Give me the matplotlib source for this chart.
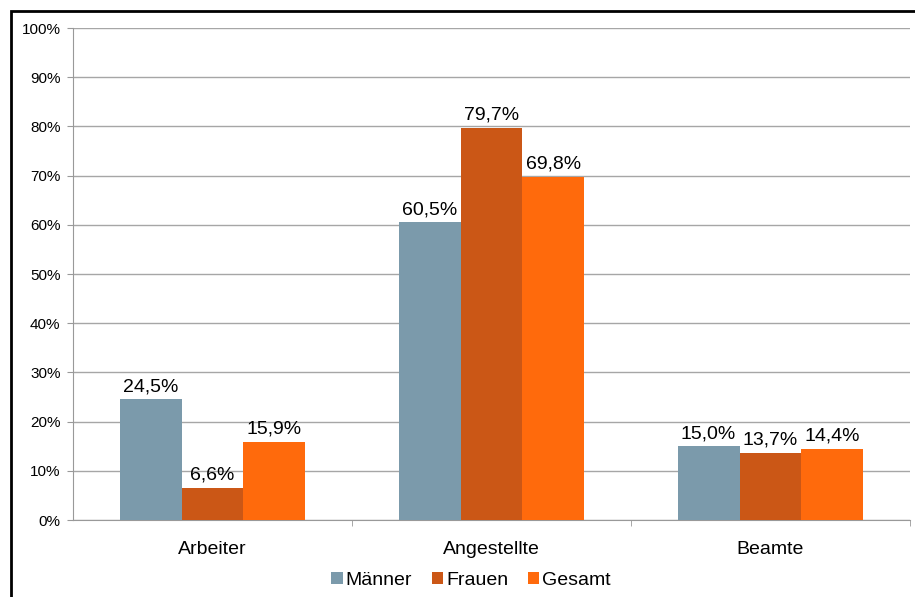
import numpy as np
import matplotlib
matplotlib.use("Agg")
import matplotlib.pyplot as plt
from matplotlib.patches import Rectangle
from matplotlib.ticker import FixedLocator

plt.rcParams["font.family"] = ["Liberation Sans", "DejaVu Sans"]

# ---- data ----
categories = ["Arbeiter", "Angestellte", "Beamte"]
series = ["Männer", "Frauen", "Gesamt"]
maenner = [24.5, 60.5, 15.0]
frauen = [6.6, 79.7, 13.7]
gesamt = [15.9, 69.8, 14.4]
colors = ["#7B9AAB", "#CB5716", "#FF6A0C"]

fig = plt.figure(figsize=(9.15, 5.97), dpi=100)
ax = fig.add_axes([73/915, 1-520/597, (910-73)/915, (520-28)/597])

x = np.arange(len(categories))
w = 0.222
for i, (vals, name, c) in enumerate(zip([maenner, frauen, gesamt], series, colors)):
    bars = ax.bar(x + (i-1)*w, vals, w, color=c, label=name, zorder=3)
    for b, v in zip(bars, vals):
        ax.annotate(f"{v:.1f}%".replace(".", ","), (b.get_x()+b.get_width()/2, v),
                    xytext=(0, 3), textcoords="offset points",
                    ha="center", va="bottom", fontsize=14, zorder=4)

ax.set_xlim(-0.5, 2.5)
ax.set_ylim(0, 100)
ax.set_yticks(np.arange(0, 101, 10))
ax.set_yticklabels([f"{t}%" for t in range(0, 101, 10)], fontsize=11)
ax.set_xticks(x)
ax.set_xticklabels(categories, fontsize=14)
ax.xaxis.set_minor_locator(FixedLocator([0.5, 1.5, 2.5]))
ax.tick_params(axis="x", which="major", length=0, pad=15)
ax.tick_params(axis="x", which="minor", length=4, color="#999999")
ax.tick_params(axis="y", length=4, color="#999999", pad=5)
ax.grid(axis="y", color="#a6a6a6", linewidth=1, zorder=0)
for s in ["top", "right"]:
    ax.spines[s].set_visible(False)
for s in ["left", "bottom"]:
    ax.spines[s].set_color("#999999")

ax.legend(loc="center", bbox_to_anchor=(0.4755, -0.122), ncol=3, frameon=False,
          fontsize=14, handlelength=0.6, handleheight=0.6, handletextpad=0.15,
          columnspacing=1.0)

# outer chart border
fig.patches.append(Rectangle((11/915, -0.1), 1.5, 1-11/597+0.1, transform=fig.transFigure,
                             fill=False, edgecolor="black", linewidth=2))

fig.savefig("out.png", dpi=100)
